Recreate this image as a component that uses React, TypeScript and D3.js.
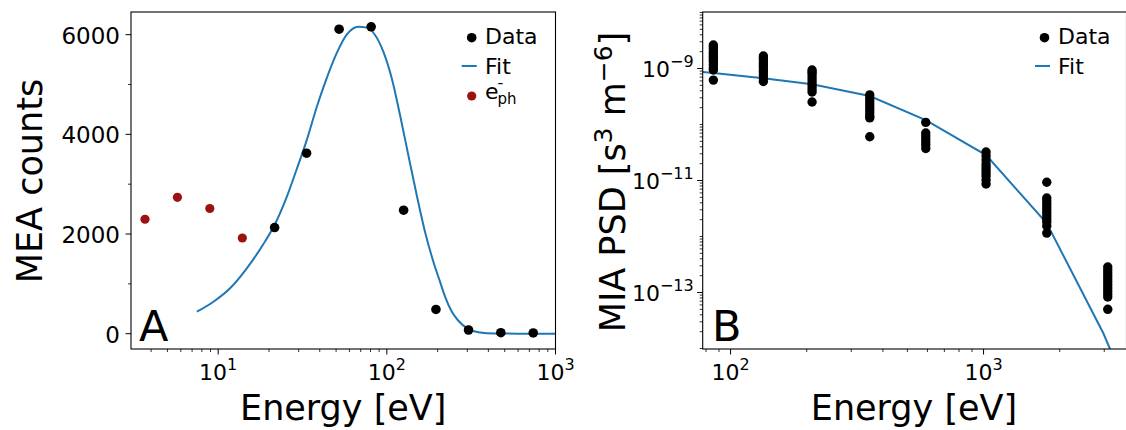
import React from 'react';
import * as d3 from 'd3';

// ---------- Panel A data ----------
const dataEnergy = [21.6, 33.4, 52.1, 80.7, 125.7, 195.5, 305, 474, 738];
const dataCounts = [2130, 3622, 6110, 6158, 2478, 486, 74, 20, 15];
const phEnergy = [3.68, 5.73, 8.92, 13.9];
const phCounts = [2296, 2737, 2512, 1920];
const fitAEnergy = [7.47, 9.37, 11.76, 14.77, 18.54, 21.65, 25.5, 29.2, 33.5, 38.4, 44.0, 50.5, 57.8, 67.8, 76.0, 85.1, 95.3, 106.9, 119.7, 134, 150.3, 168.3, 188.7, 206.8, 221.6, 243, 264, 303, 356, 437, 600, 1000];
const fitACounts = [441, 642, 911, 1312, 1800, 2190, 2745, 3300, 3885, 4550, 5130, 5635, 6000, 6160, 6141, 5994, 5659, 5125, 4389, 3586, 2783, 2047, 1445, 1040, 740, 440, 270, 95, 25, 4, 0.5, 0];
const countTicks = [0, 2000, 4000, 6000];
const countMinorTicks = [1000, 3000, 5000];
const energyTicksA = [10, 100, 1000];

// ---------- Panel B data ----------
const psdEnergy = [85.5, 134.8, 210, 355, 591, 1023, 1778, 3097];
const psdValues: number[][] = [
  [2.63e-9, 2.42e-9, 2.23e-9, 1.97e-9, 1.82e-9, 1.67e-9, 1.54e-9, 1.42e-9, 1.31e-9, 1.15e-9, 1.02e-9, 9.4e-10, 6.2e-10],
  [1.67e-9, 1.54e-9, 1.42e-9, 1.25e-9, 1.15e-9, 1.06e-9, 9.4e-10, 8.66e-10, 7.65e-10, 6.76e-10, 5.86e-10],
  [9.4e-10, 8.66e-10, 7.98e-10, 7.05e-10, 6.23e-10, 5.51e-10, 4.87e-10, 4.3e-10, 3.8e-10, 2.52e-10],
  [3.37e-10, 2.97e-10, 2.63e-10, 2.32e-10, 2.05e-10, 1.82e-10, 1.6e-10, 1.42e-10, 1.31e-10, 6.05e-11],
  [1.09e-10, 7.05e-11, 6.23e-11, 5.51e-11, 4.87e-11, 4.3e-11, 3.73e-11],
  [3.23e-11, 2.74e-11, 2.32e-11, 1.97e-11, 1.74e-11, 1.54e-11, 1.36e-11, 1.2e-11, 1.02e-11, 8.66e-12],
  [9.29e-12, 4.87e-12, 4.3e-12, 3.8e-12, 3.36e-12, 2.97e-12, 2.63e-12, 2.32e-12, 2.05e-12, 1.82e-12, 1.54e-12, 1.15e-12],
  [2.85e-13, 2.52e-13, 2.23e-13, 1.97e-13, 1.74e-13, 1.54e-13, 1.36e-13, 1.2e-13, 1.06e-13, 9.4e-14, 8.31e-14, 5.01e-14],
];
const fitBEnergy = [77.6, 85.5, 134.8, 210, 355, 591, 1023, 1778, 2975, 3162];
const fitBPsd = [8.66e-10, 8.32e-10, 6.68e-10, 5.22e-10, 3.23e-10, 1.2e-10, 2.85e-11, 1.72e-12, 1.87e-14, 9.8e-15];
const energyTicksB = [100, 1000];
const psdTickExps = [-13, -11, -9];

const FONT = 'DejaVu Sans';
const BLUE = '#1f77b4';
const RED = '#9b1212';

const A = { left: 131, right: 555.5, top: 12, bottom: 349 };
const B = { left: 702.7, right: 1126.5, top: 12, bottom: 349 };

function logTicks(lo: number, hi: number) {
  const out: number[] = [];
  for (let d = Math.floor(Math.log10(lo)); d <= Math.ceil(Math.log10(hi)); d++) {
    for (let k = 1; k <= 9; k++) {
      const v = k * Math.pow(10, d);
      if (v >= lo * 0.9999 && v <= hi * 1.0001) out.push(v);
    }
  }
  return out;
}

function Pow10({ x, y, exp, anchor }: { x: number; y: number; exp: string; anchor: string }) {
  return (
    <text x={x} y={y} textAnchor={anchor} fontFamily={FONT} fontSize={22} fill="#000">
      10<tspan dy={-10} fontSize={16}>{exp}</tspan>
    </text>
  );
}

export default function App() {
  const xA = d3.scaleLog().domain([3.04, 1000]).range([A.left, A.right]);
  const yA = d3.scaleLinear().domain([-307, 6455]).range([A.bottom, A.top]);
  const xB = d3.scaleLog().domain([77.6, 3673]).range([B.left, B.right]);
  const yB = d3.scaleLog().domain([9.8e-15, 1.02e-8]).range([B.bottom, B.top]);

  const fitALine = d3.line<number>()
    .x((_, i) => xA(fitAEnergy[i]))
    .y((d) => yA(d))
    .curve(d3.curveMonotoneX)(fitACounts) || '';
  const fitBLine = d3.line<number>()
    .x((_, i) => xB(fitBEnergy[i]))
    .y((d) => yB(d))(fitBPsd) || '';

  const xAminor = logTicks(3.04, 1000).filter((v) => !energyTicksA.some((m) => Math.abs(m - v) < 1e-6));
  const xBminor = logTicks(77.6, 3673).filter((v) => !energyTicksB.some((m) => Math.abs(m - v) < 1e-6));
  const yBall = logTicks(9.8e-15, 1.02e-8);
  const yBmajor = psdTickExps.map((e) => Math.pow(10, e));
  const yBminor = yBall.filter((v) => !yBmajor.some((m) => Math.abs(Math.log10(m) - Math.log10(v)) < 1e-6));

  const MAJ = 5.5, MIN = 3;

  return (
    <svg width={1126} height={430} style={{ position: 'absolute', left: 0, top: 0, background: '#fff' }}>
      <defs>
        <clipPath id="clipA"><rect x={A.left} y={A.top} width={A.right - A.left} height={A.bottom - A.top} /></clipPath>
        <clipPath id="clipB"><rect x={B.left} y={B.top} width={B.right - B.left} height={B.bottom - B.top} /></clipPath>
      </defs>

      {/* ---------------- Panel A ---------------- */}
      <g clipPath="url(#clipA)">
        <path d={fitALine} fill="none" stroke={BLUE} strokeWidth={2} />
        {phEnergy.map((e, i) => (
          <circle key={'ph' + i} cx={xA(e)} cy={yA(phCounts[i])} r={4.6} fill={RED} />
        ))}
        {dataEnergy.map((e, i) => (
          <circle key={'d' + i} cx={xA(e)} cy={yA(dataCounts[i])} r={4.8} fill="#000" />
        ))}
      </g>
      <rect x={A.left} y={A.top} width={A.right - A.left} height={A.bottom - A.top} fill="none" stroke="#000" strokeWidth={1.1} />
      {countTicks.map((v) => (
        <g key={'yA' + v}>
          <line x1={A.left - MAJ} x2={A.left} y1={yA(v)} y2={yA(v)} stroke="#000" strokeWidth={1} />
          <text x={A.left - 11} y={yA(v) + 9} textAnchor="end" fontFamily={FONT} fontSize={23} fill="#000">{v}</text>
        </g>
      ))}
      {countMinorTicks.map((v) => (
        <line key={'yAm' + v} x1={A.left - MIN} x2={A.left} y1={yA(v)} y2={yA(v)} stroke="#000" strokeWidth={0.8} />
      ))}
      {energyTicksA.map((v) => (
        <g key={'xA' + v}>
          <line x1={xA(v)} x2={xA(v)} y1={A.bottom} y2={A.bottom + MAJ} stroke="#000" strokeWidth={1} />
          <Pow10 x={xA(v)} y={380} exp={String(Math.round(Math.log10(v)))} anchor="middle" />
        </g>
      ))}
      {xAminor.map((v) => (
        <line key={'xAm' + v} x1={xA(v)} x2={xA(v)} y1={A.bottom} y2={A.bottom + MIN} stroke="#000" strokeWidth={0.8} />
      ))}
      <text transform="translate(42,181) rotate(-90)" textAnchor="middle" fontFamily={FONT} fontSize={35} fill="#000">MEA counts</text>
      <text x={(A.left + A.right) / 2} y={420} textAnchor="middle" fontFamily={FONT} fontSize={35} fill="#000">Energy [eV]</text>
      <text x={139} y={341} fontFamily={FONT} fontSize={43} fill="#000">A</text>
      {/* legend A */}
      <circle cx={471.7} cy={37.7} r={4.8} fill="#000" />
      <text x={485} y={43.5} fontFamily={FONT} fontSize={22} fill="#000">Data</text>
      <line x1={461.7} x2={476.7} y1={66} y2={66} stroke={BLUE} strokeWidth={2} />
      <text x={485} y={73.5} fontFamily={FONT} fontSize={22} fill="#000">Fit</text>
      <circle cx={471.7} cy={96} r={4.6} fill={RED} />
      <text x={485} y={98.5} fontFamily={FONT} fontSize={22} fill="#000">
        e<tspan x={497.5} dy={5} fontSize={15}>ph</tspan><tspan x={497.5} dy={-15.5} fontSize={16}>-</tspan>
      </text>

      {/* ---------------- Panel B ---------------- */}
      <g clipPath="url(#clipB)">
        <path d={fitBLine} fill="none" stroke={BLUE} strokeWidth={2} />
        {psdEnergy.map((e, i) =>
          psdValues[i].map((v, j) => (
            <circle key={'p' + i + '_' + j} cx={xB(e)} cy={yB(v)} r={4.7} fill="#000" />
          ))
        )}
      </g>
      <rect x={B.left} y={B.top} width={B.right - B.left} height={B.bottom - B.top} fill="none" stroke="#000" strokeWidth={1.1} />
      {yBmajor.map((v, i) => (
        <g key={'yB' + i}>
          <line x1={B.left - MAJ} x2={B.left} y1={yB(v)} y2={yB(v)} stroke="#000" strokeWidth={1} />
          <Pow10 x={B.left - 9} y={yB(v) + 8.5} exp={'\u2212' + String(-psdTickExps[i])} anchor="end" />
        </g>
      ))}
      {yBminor.map((v, i) => (
        <line key={'yBm' + i} x1={B.left - MIN} x2={B.left} y1={yB(v)} y2={yB(v)} stroke="#000" strokeWidth={0.8} />
      ))}
      {energyTicksB.map((v) => (
        <g key={'xB' + v}>
          <line x1={xB(v)} x2={xB(v)} y1={B.bottom} y2={B.bottom + MAJ} stroke="#000" strokeWidth={1} />
          <Pow10 x={xB(v)} y={380} exp={String(Math.round(Math.log10(v)))} anchor="middle" />
        </g>
      ))}
      {xBminor.map((v, i) => (
        <line key={'xBm' + i} x1={xB(v)} x2={xB(v)} y1={B.bottom} y2={B.bottom + MIN} stroke="#000" strokeWidth={0.8} />
      ))}
      <text transform="translate(625,182) rotate(-90)" textAnchor="middle" fontFamily={FONT} fontSize={35} fill="#000">
        MIA PSD [s<tspan dy={-13} fontSize={25}>3</tspan><tspan dy={13}> m</tspan><tspan dy={-13} fontSize={25}>{'\u22126'}</tspan><tspan dy={13}>]</tspan>
      </text>
      <text x={914} y={420} textAnchor="middle" fontFamily={FONT} fontSize={35} fill="#000">Energy [eV]</text>
      <text x={712} y={341} fontFamily={FONT} fontSize={43} fill="#000">B</text>
      {/* legend B */}
      <circle cx={1044.5} cy={37.7} r={4.8} fill="#000" />
      <text x={1058} y={43.5} fontFamily={FONT} fontSize={22} fill="#000">Data</text>
      <line x1={1035} x2={1050} y1={66} y2={66} stroke={BLUE} strokeWidth={2} />
      <text x={1058} y={73.5} fontFamily={FONT} fontSize={22} fill="#000">Fit</text>
    </svg>
  );
}
